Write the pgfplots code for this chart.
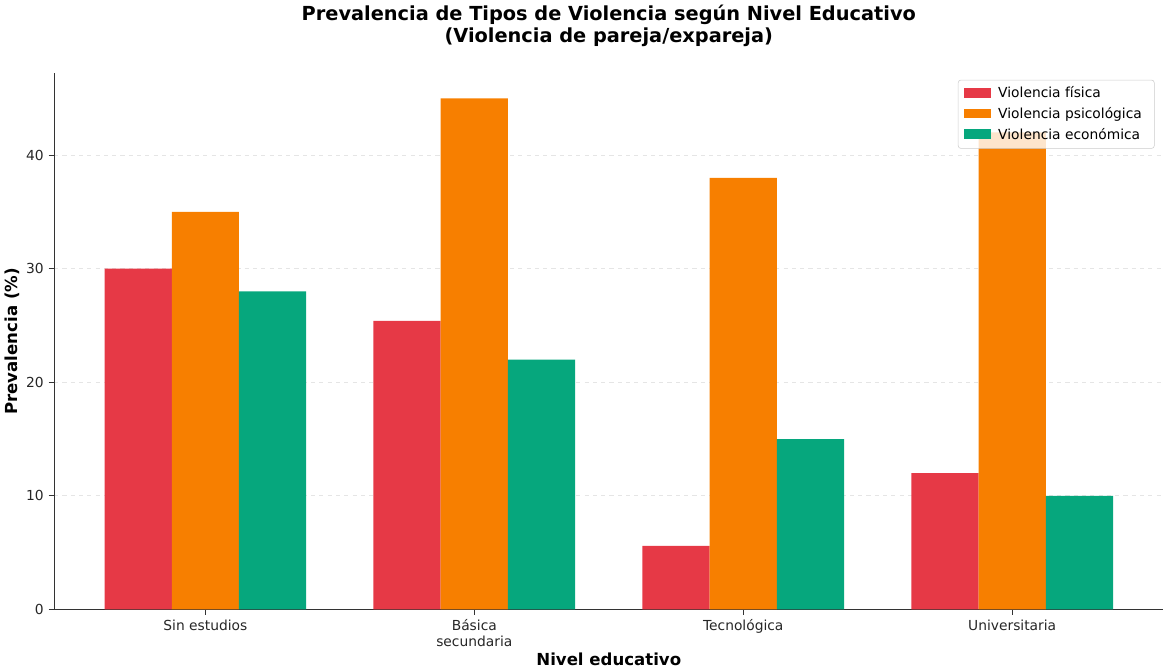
\documentclass[border=0pt]{standalone}
\usepackage{pgfplots}
\pgfplotsset{compat=1.18}
\usepackage{fontspec}
\setmainfont{DejaVu Sans}
\definecolor{cfis}{HTML}{E63946}
\definecolor{cpsi}{HTML}{F77F00}
\definecolor{ceco}{HTML}{06A77D}
\begin{document}
\begin{tikzpicture}
\begin{axis}[
  width=803pt, height=388pt, scale only axis,
  xmin=-0.5625, xmax=3.5625, ymin=0, ymax=47.2,
  axis x line*=bottom, axis y line*=left,
  axis line style={black!80, line width=0.8pt},
  xtick={0,1,2,3},
  xticklabels={Sin estudios, {Básica\\secundaria}, Tecnológica, Universitaria},
  xticklabel style={align=center, font=\fontsize{10}{11}\selectfont, text=black!85},
  ytick={0,10,20,30,40},
  yticklabel style={font=\fontsize{10}{11}\selectfont, text=black!85},
  /pgf/number format/assume math mode=true,
  tick align=outside, tick style={black!80, line width=0.8pt}, major tick length=4pt,
  ymajorgrids, grid style={dashed, gray!20, line width=0.6pt},
  xlabel={\bfseries Nivel educativo}, ylabel={\bfseries Prevalencia (\%)},
  xlabel style={font=\fontsize{12}{14}\selectfont\bfseries, yshift=2pt},
  ylabel style={font=\fontsize{12}{14}\selectfont\bfseries, yshift=-2pt},
  title={\bfseries Prevalencia de Tipos de Violencia según Nivel Educativo\\\bfseries (Violencia de pareja/expareja)},
  title style={font=\fontsize{14}{16}\selectfont, align=center, yshift=10pt},
  ybar, bar width=0.25,
  legend style={at={(rel axis cs:0.992,0.988)}, anchor=north east, font=\fontsize{10}{12}\selectfont,
    fill=white, fill opacity=0.8, text opacity=1, draw=gray!40, rounded corners=2pt, row sep=1.5pt,
    inner xsep=4pt, inner ysep=3pt, nodes={inner xsep=5pt}},
  legend cell align=left,
  legend image code/.code={\fill[#1, fill opacity=1, sharp corners] (0pt,-3pt) rectangle (20pt,4pt);},
]
\addplot[fill=cfis, draw=none, bar shift=-0.25] coordinates {(0,30) (1,25.4) (2,5.6) (3,12)};
\addplot[fill=cpsi, draw=none, bar shift=0] coordinates {(0,35) (1,45) (2,38) (3,42)};
\addplot[fill=ceco, draw=none, bar shift=0.25] coordinates {(0,28) (1,22) (2,15) (3,10)};
\legend{Violencia física, Violencia psicológica, Violencia económica}
\end{axis}
\end{tikzpicture}
\end{document}
